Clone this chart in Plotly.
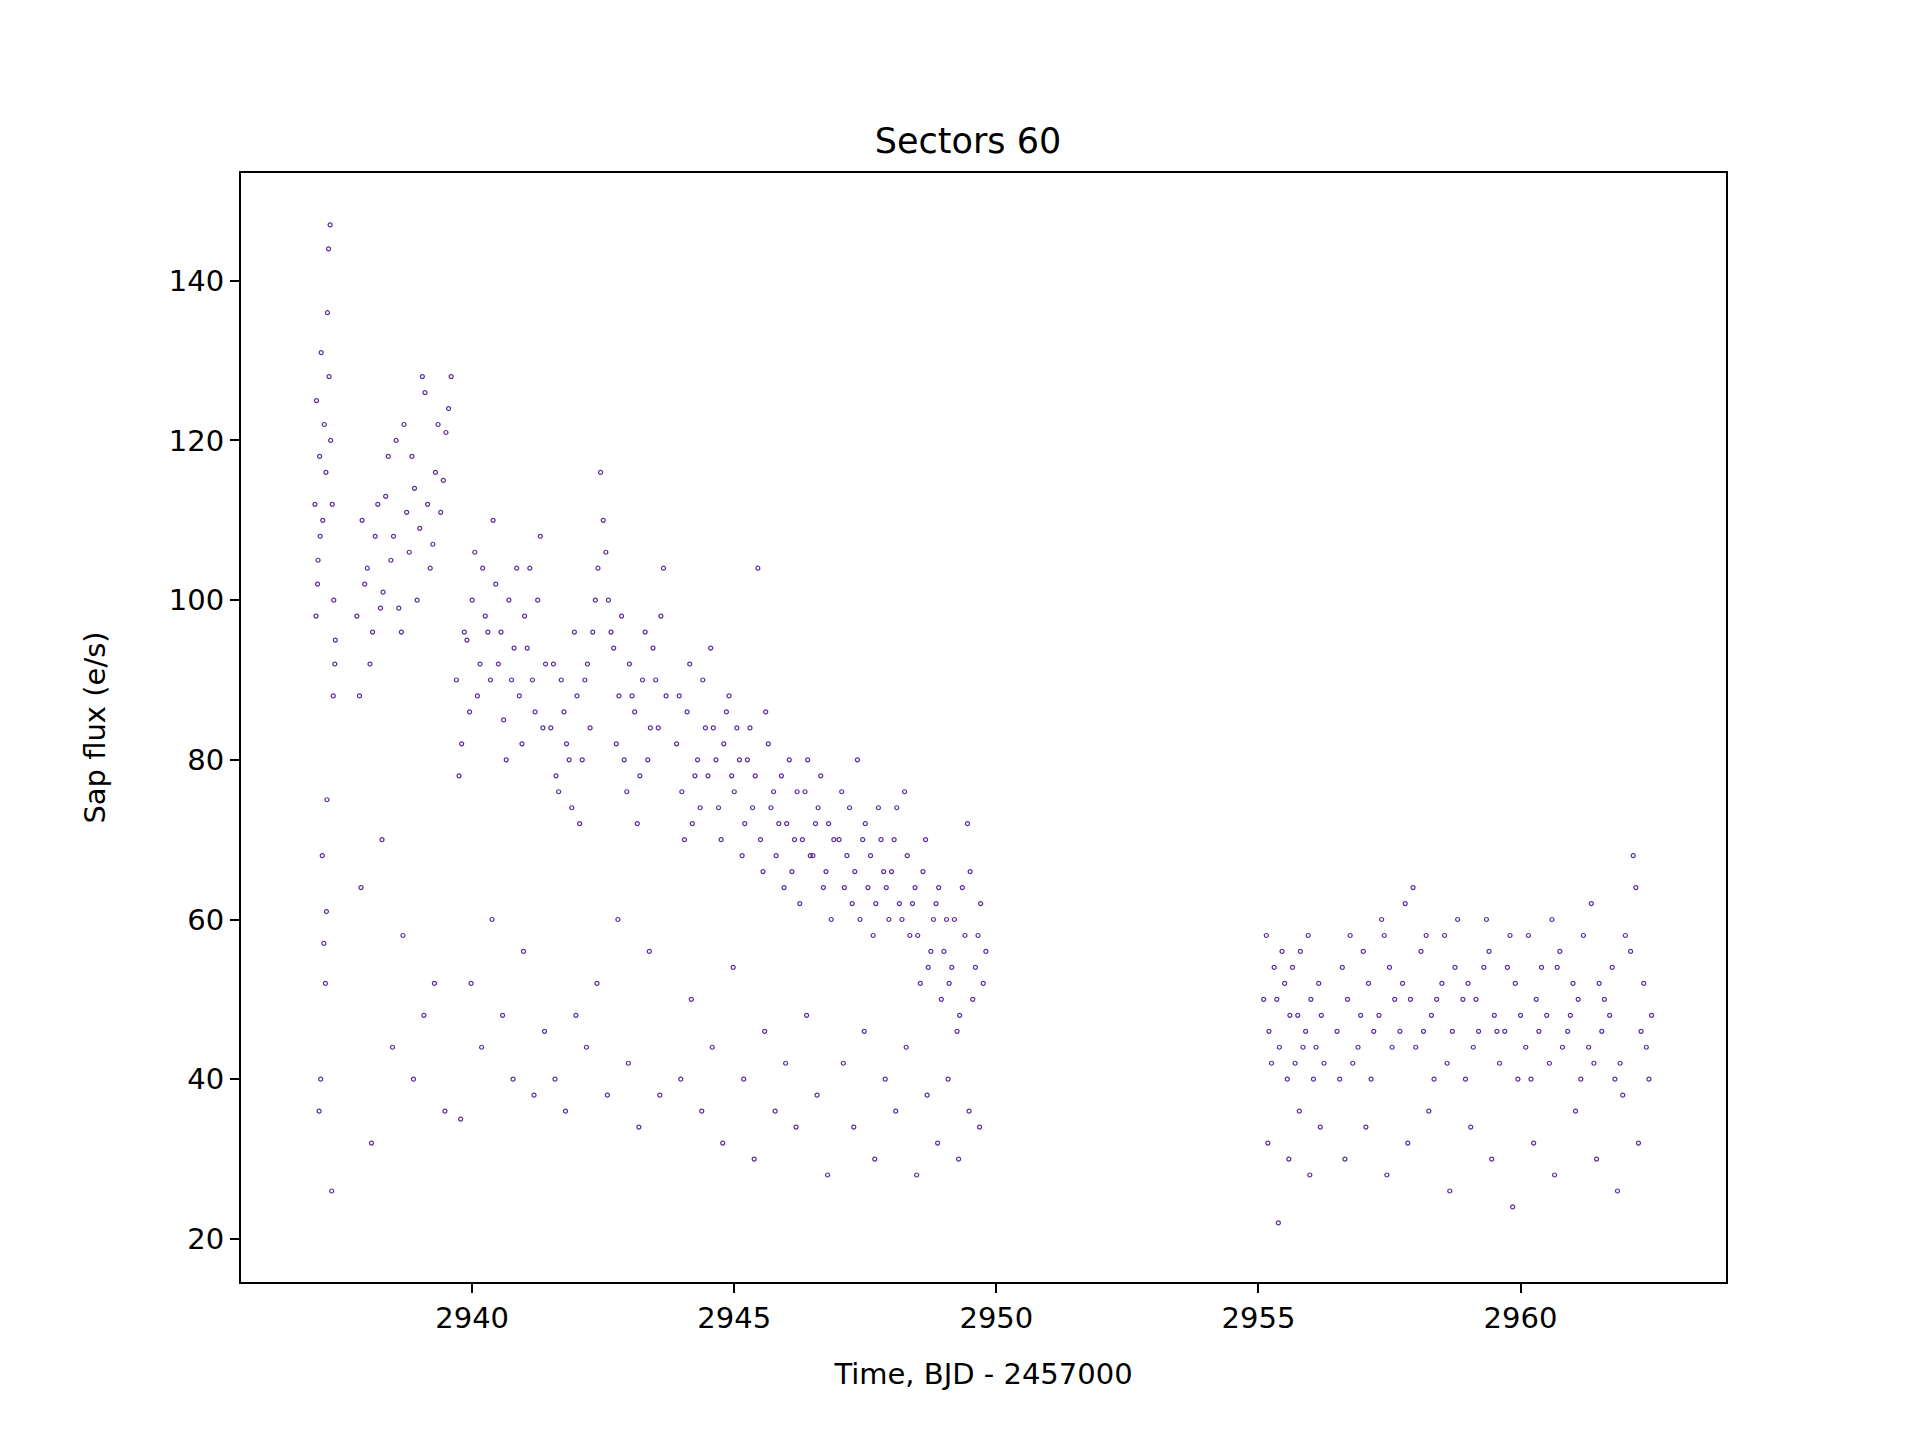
import plotly.graph_objects as go

# values (Sector 60), main band + low outliers
time_a = [2937.00, 2937.03, 2937.06, 2937.09, 2937.12, 2937.15, 2937.18, 2937.21, 2937.24, 2937.27,
          2937.30, 2937.33, 2937.36, 2937.39, 2937.05, 2937.11, 2937.17, 2937.23, 2937.29, 2937.35,
          2937.08, 2937.20, 2937.32, 2937.02, 2937.14, 2937.26, 2937.38, 2937.10, 2937.22]
flux_a = [112, 125, 105, 118, 131, 110, 122, 116, 136, 128,
          120, 112, 100, 95, 102, 40, 57, 75, 147, 88,
          36, 52, 26, 98, 68, 144, 92, 108, 61]

time_b = [2937.80, 2937.90, 2938.00, 2938.10, 2938.20, 2938.30, 2938.40, 2938.50, 2938.60, 2938.70,
          2938.80, 2938.90, 2939.00, 2939.10, 2939.20, 2939.30, 2939.40, 2939.50, 2939.60,
          2937.85, 2937.95, 2938.05, 2938.15, 2938.25, 2938.35, 2938.45, 2938.55, 2938.65, 2938.75,
          2938.85, 2938.95, 2939.05, 2939.15, 2939.25, 2939.35, 2939.45, 2939.55,
          2937.88, 2938.08, 2938.28, 2938.48, 2938.68, 2938.88, 2939.08, 2939.28, 2939.48]
flux_b = [98, 110, 104, 96, 112, 101, 118, 108, 99, 122,
          106, 114, 109, 126, 104, 116, 111, 121, 128,
          88, 102, 92, 108, 99, 113, 105, 120, 96, 111,
          118, 100, 128, 112, 107, 122, 115, 124,
          64, 32, 70, 44, 58, 40, 48, 52, 36]

time_c = [2939.70, 2939.80, 2939.90, 2940.00, 2940.10, 2940.20, 2940.30, 2940.40, 2940.50, 2940.60,
          2940.70, 2940.80, 2940.90, 2941.00, 2941.10, 2941.20, 2941.30, 2941.40,
          2939.75, 2939.85, 2939.95, 2940.05, 2940.15, 2940.25, 2940.35, 2940.45, 2940.55, 2940.65,
          2940.75, 2940.85, 2940.95, 2941.05, 2941.15, 2941.25, 2941.35,
          2939.78, 2939.98, 2940.18, 2940.38, 2940.58, 2940.78, 2940.98, 2941.18, 2941.38]
flux_c = [90, 82, 95, 100, 88, 104, 96, 110, 92, 85,
          100, 94, 88, 98, 104, 86, 108, 92,
          78, 96, 86, 106, 92, 98, 90, 102, 96, 80,
          90, 104, 82, 94, 90, 100, 84,
          35, 52, 44, 60, 48, 40, 56, 38, 46]

time_d = [2941.50, 2941.60, 2941.70, 2941.80, 2941.90, 2942.00, 2942.10, 2942.20, 2942.30, 2942.40,
          2942.50, 2942.60, 2942.70, 2942.80, 2942.90, 2943.00, 2943.10, 2943.20, 2943.30, 2943.40,
          2943.50, 2943.60, 2943.70,
          2941.55, 2941.65, 2941.75, 2941.85, 2941.95, 2942.05, 2942.15, 2942.25, 2942.35, 2942.45,
          2942.55, 2942.65, 2942.75, 2942.85, 2942.95, 2943.05, 2943.15, 2943.25, 2943.35, 2943.45,
          2943.55, 2943.65,
          2941.58, 2941.78, 2941.98, 2942.18, 2942.38, 2942.58, 2942.78, 2942.98, 2943.18, 2943.38,
          2943.58]
flux_d = [84, 78, 90, 82, 74, 88, 80, 92, 96, 104,
          110, 100, 94, 88, 80, 92, 86, 78, 96, 84,
          90, 98, 88,
          92, 76, 86, 80, 96, 72, 90, 84, 100, 116,
          106, 96, 82, 98, 76, 88, 72, 90, 80, 94,
          84, 104,
          40, 36, 48, 44, 52, 38, 60, 42, 34, 56,
          38]

time_e = [2943.90, 2944.00, 2944.10, 2944.20, 2944.30, 2944.40, 2944.50, 2944.60, 2944.70, 2944.80,
          2944.90, 2945.00, 2945.10, 2945.20, 2945.30, 2945.40, 2945.50, 2945.60, 2945.70, 2945.80,
          2945.90, 2946.00, 2946.10, 2946.20, 2946.30, 2946.40, 2946.50, 2946.60, 2946.70, 2946.80,
          2946.90,
          2943.95, 2944.05, 2944.15, 2944.25, 2944.35, 2944.45, 2944.55, 2944.65, 2944.75, 2944.85,
          2944.95, 2945.05, 2945.15, 2945.25, 2945.35, 2945.45, 2945.55, 2945.65, 2945.75, 2945.85,
          2945.95, 2946.05, 2946.15, 2946.25, 2946.35, 2946.45, 2946.55, 2946.65, 2946.75, 2946.85,
          2943.98, 2944.18, 2944.38, 2944.58, 2944.78, 2944.98, 2945.18, 2945.38, 2945.58, 2945.78,
          2945.98, 2946.18, 2946.38, 2946.58, 2946.78]
flux_e = [82, 76, 86, 72, 80, 90, 78, 84, 74, 82,
          88, 76, 80, 72, 84, 78, 70, 86, 74, 68,
          78, 72, 66, 76, 70, 80, 68, 74, 64, 72,
          70,
          88, 70, 92, 78, 74, 84, 94, 80, 70, 86,
          78, 84, 68, 80, 74, 104, 66, 82, 76, 72,
          64, 80, 70, 62, 76, 68, 72, 78, 66, 60,
          40, 50, 36, 44, 32, 54, 40, 30, 46, 36,
          42, 34, 48, 38, 28]

time_f = [2947.00, 2947.10, 2947.20, 2947.30, 2947.40, 2947.50, 2947.60, 2947.70, 2947.80, 2947.90,
          2948.00, 2948.10, 2948.20, 2948.30, 2948.40, 2948.50, 2948.60, 2948.70, 2948.80, 2948.90,
          2949.00, 2949.10, 2949.20, 2949.30, 2949.40, 2949.50, 2949.60, 2949.70, 2949.80,
          2947.05, 2947.15, 2947.25, 2947.35, 2947.45, 2947.55, 2947.65, 2947.75, 2947.85, 2947.95,
          2948.05, 2948.15, 2948.25, 2948.35, 2948.45, 2948.55, 2948.65, 2948.75, 2948.85, 2948.95,
          2949.05, 2949.15, 2949.25, 2949.35, 2949.45, 2949.55, 2949.65, 2949.75,
          2947.08, 2947.28, 2947.48, 2947.68, 2947.88, 2948.08, 2948.28, 2948.48, 2948.68, 2948.88,
          2949.08, 2949.28, 2949.48, 2949.68]
flux_f = [70, 64, 74, 66, 60, 72, 68, 62, 70, 64,
          66, 74, 60, 68, 62, 58, 66, 54, 60, 64,
          56, 52, 60, 48, 58, 66, 54, 62, 56,
          76, 68, 62, 80, 70, 64, 58, 74, 66, 60,
          70, 62, 76, 58, 64, 52, 70, 56, 62, 50,
          60, 54, 46, 64, 72, 50, 58, 52,
          42, 34, 46, 30, 40, 36, 44, 28, 38, 32,
          40, 30, 36, 34]

time_g = [2955.10, 2955.20, 2955.30, 2955.40, 2955.50, 2955.60, 2955.70, 2955.80, 2955.90, 2956.00,
          2956.10, 2956.20,
          2955.15, 2955.25, 2955.35, 2955.45, 2955.55, 2955.65, 2955.75, 2955.85, 2955.95, 2956.05,
          2956.15, 2956.25,
          2955.18, 2955.38, 2955.58, 2955.78, 2955.98, 2956.18]
flux_g = [50, 46, 54, 44, 52, 48, 42, 56, 46, 50,
          44, 48,
          58, 42, 50, 56, 40, 54, 48, 44, 58, 40,
          52, 42,
          32, 22, 30, 36, 28, 34]

time_h = [2956.50, 2956.70, 2956.90, 2957.10, 2957.30, 2957.50, 2957.70, 2957.90, 2958.10, 2958.30,
          2958.50, 2958.70, 2958.90, 2959.10, 2959.30, 2959.50, 2959.70, 2959.90, 2960.10, 2960.30,
          2960.50, 2960.70, 2960.90, 2961.10, 2961.30, 2961.50, 2961.70, 2961.90, 2962.10, 2962.30,
          2962.50,
          2956.60, 2956.80, 2957.00, 2957.20, 2957.40, 2957.60, 2957.80, 2958.00, 2958.20, 2958.40,
          2958.60, 2958.80, 2959.00, 2959.20, 2959.40, 2959.60, 2959.80, 2960.00, 2960.20, 2960.40,
          2960.60, 2960.80, 2961.00, 2961.20, 2961.40, 2961.60, 2961.80, 2962.00, 2962.20, 2962.40,
          2956.55, 2956.75, 2956.95, 2957.15, 2957.35, 2957.55, 2957.75, 2957.95, 2958.15, 2958.35,
          2958.55, 2958.75, 2958.95, 2959.15, 2959.35, 2959.55, 2959.75, 2959.95, 2960.15, 2960.35,
          2960.55, 2960.75, 2960.95, 2961.15, 2961.35, 2961.55, 2961.75, 2961.95, 2962.15, 2962.35,
          2962.45,
          2956.65, 2957.05, 2957.45, 2957.85, 2958.25, 2958.65, 2959.05, 2959.45, 2959.85, 2960.25,
          2960.65, 2961.05, 2961.45, 2961.85, 2962.25]
flux_h = [46, 50, 44, 52, 48, 54, 46, 50, 56, 48,
          52, 46, 50, 44, 54, 48, 46, 52, 44, 50,
          48, 54, 46, 50, 44, 52, 48, 42, 56, 46,
          48,
          54, 42, 56, 46, 58, 50, 62, 44, 58, 50,
          42, 60, 52, 46, 56, 42, 58, 48, 40, 54,
          60, 44, 52, 58, 42, 50, 40, 58, 64, 44,
          40, 58, 48, 40, 60, 44, 52, 64, 46, 40,
          58, 54, 40, 50, 60, 46, 54, 40, 58, 46,
          42, 56, 48, 40, 62, 46, 54, 38, 68, 52,
          40,
          30, 34, 28, 32, 36, 26, 34, 30, 24, 32,
          28, 36, 30, 26, 32]

times = time_a + time_b + time_c + time_d + time_e + time_f + time_g + time_h
fluxes = flux_a + flux_b + flux_c + flux_d + flux_e + flux_f + flux_g + flux_h

fig = go.Figure(
    go.Scatter(
        x=times,
        y=fluxes,
        mode="markers",
        marker=dict(symbol="circle-open", size=4, color="#5b2a9a", line=dict(width=1.2)),
        showlegend=False,
    )
)

axis_common = dict(
    showline=True, linecolor="black", linewidth=2, mirror=True,
    ticks="outside", ticklen=9, tickwidth=2, tickcolor="black",
    showgrid=False, zeroline=False, tickfont=dict(size=29, color="black"),
    title_font=dict(size=29, color="black"),
)

fig.update_layout(
    width=1920, height=1440,
    paper_bgcolor="white", plot_bgcolor="white",
    font=dict(family="DejaVu Sans", color="black"),
    title=dict(text="Sectors 60", x=0.5, xanchor="center", y=0.908, yanchor="middle",
               font=dict(size=35)),
    margin=dict(l=233, r=202, t=165, b=166),
    xaxis=dict(title=dict(text="Time, BJD - 2457000", standoff=30), range=[2935.59, 2963.92],
               tickvals=[2940, 2945, 2950, 2955, 2960], **axis_common),
    yaxis=dict(title=dict(text="Sap flux (e/s)", standoff=55), range=[14.6, 153.5],
               tickvals=[20, 40, 60, 80, 100, 120, 140], **axis_common),
)

fig.write_html("out.html")
